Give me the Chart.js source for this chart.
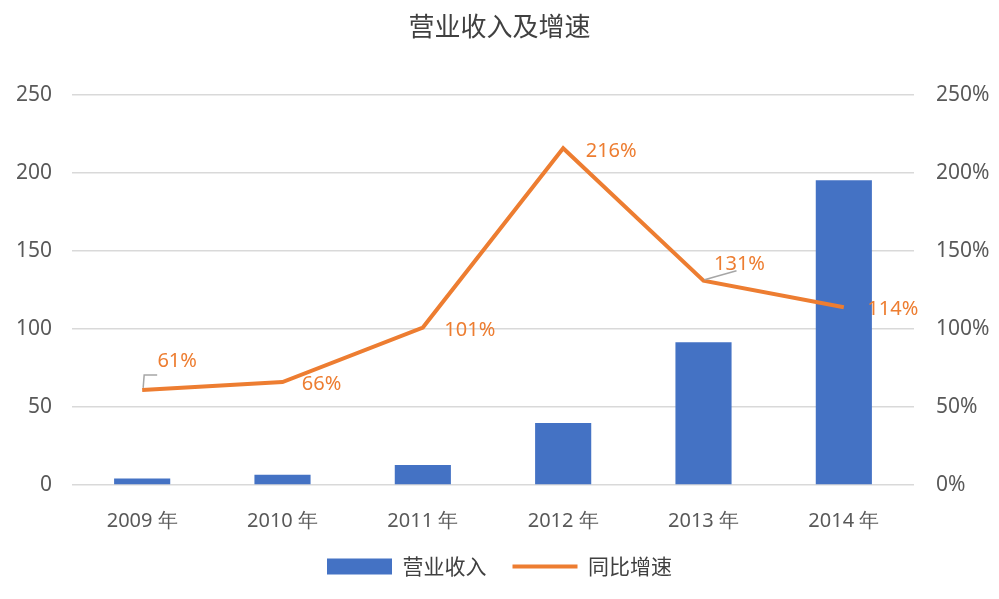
<!DOCTYPE html>
<html><head><meta charset="utf-8">
<script src="https://cdn.jsdelivr.net/npm/chart.js@4"></script>
<style>html,body{margin:0;padding:0;background:#fff}#wrap{width:999px;height:599px}</style>
</head><body><div id="wrap"><canvas id="c"></canvas></div>
<script>
const categories = ['2009 年','2010 年','2011 年','2012 年','2013 年','2014 年'];
const revenue = [4.2, 6.6, 12.9, 39.7, 91.5, 195.4];
const growth = [61, 66, 101, 216, 131, 114];
const revenueTicks = [0, 50, 100, 150, 200, 250];
const growthTicks = [0, 50, 100, 150, 200, 250];
const seriesNames = ['营业收入', '同比增速'];
const chartTitle = '营业收入及增速';

const labelOffsets = [[35,-29],[39,2],[47,3],[48,3],[36,-16],[49,2]];
const leaders = {0: [[1,-2],[2,-15],[15,-15]], 4: [[1,-1],[33,-10]]};

const gridGray = '#d9d9d9';
const tickGray = '#595959';
const orange = '#ED7D31';
const blue = '#4472C4';

const labelPlugin = {
  id: 'pctLabels',
  afterDatasetsDraw(chart) {
    const meta = chart.getDatasetMeta(1);
    const ctx = chart.ctx;
    ctx.save();
    meta.data.forEach((pt, i) => {
      if (leaders[i]) {
        ctx.strokeStyle = '#a6a6a6';
        ctx.lineWidth = 1.5;
        ctx.beginPath();
        leaders[i].forEach((p, k) => {
          if (k === 0) ctx.moveTo(pt.x + p[0], pt.y + p[1]);
          else ctx.lineTo(pt.x + p[0], pt.y + p[1]);
        });
        ctx.stroke();
      }
      ctx.fillStyle = orange;
      ctx.font = '20px "Noto Sans", sans-serif';
      ctx.textAlign = 'center';
      ctx.textBaseline = 'middle';
      ctx.fillText(growth[i] + '%', pt.x + labelOffsets[i][0], pt.y + labelOffsets[i][1]);
    });
    ctx.restore();
  }
};

new Chart(document.getElementById('c'), {
  data: {
    labels: categories,
    datasets: [
      { type: 'bar', label: seriesNames[0], data: revenue, backgroundColor: blue,
        yAxisID: 'y', order: 2, barPercentage: 0.4, categoryPercentage: 1.0, pointStyle: 'rect', borderWidth: 0 },
      { type: 'line', label: seriesNames[1], data: growth, borderColor: orange, backgroundColor: orange,
        borderWidth: 4, pointRadius: 0, tension: 0, yAxisID: 'y1', order: 1, pointStyle: 'line' }
    ]
  },
  options: {
    responsive: true, maintainAspectRatio: false, animation: false,
    layout: { padding: { left: 0, right: 0, top: 0, bottom: 12 } },
    plugins: {
      title: { display: true, text: chartTitle, color: '#404040',
        font: { family: '"Noto Sans CJK SC", sans-serif', size: 26, weight: 'normal' },
        padding: { top: 11, bottom: 53 } },
      legend: { position: 'bottom',
        labels: { usePointStyle: true, pointStyleWidth: 65, boxWidth: 65, boxHeight: 16, padding: 26,
          color: '#404040', font: { family: '"Noto Sans CJK SC", sans-serif', size: 21 },
          sort: (a, b) => a.datasetIndex - b.datasetIndex } },
      tooltip: { enabled: false }
    },
    scales: {
      x: { grid: { display: false }, border: { display: false },
        ticks: { color: tickGray, padding: 16, font: { family: '"Noto Sans", sans-serif', size: 20 } },
        afterFit: s => { s.height = 45; } },
      y: { position: 'left', min: 0, max: 250,
        afterBuildTicks: s => { s.ticks = revenueTicks.map(v => ({ value: v })); },
        grid: { color: gridGray, lineWidth: 1.5, drawTicks: false }, border: { display: false },
        ticks: { color: tickGray, padding: 20, font: { family: '"Noto Sans", sans-serif', size: 21 } },
        afterFit: s => { s.width = 72; } },
      y1: { position: 'right', min: 0, max: 250,
        afterBuildTicks: s => { s.ticks = growthTicks.map(v => ({ value: v })); },
        grid: { display: false, drawTicks: false }, border: { display: false },
        ticks: { color: tickGray, padding: 22, font: { family: '"Noto Sans", sans-serif', size: 21 }, callback: v => v + '%' },
        afterFit: s => { s.width = 85; } }
    }
  },
  plugins: [labelPlugin]
});
</script>
</body></html>
